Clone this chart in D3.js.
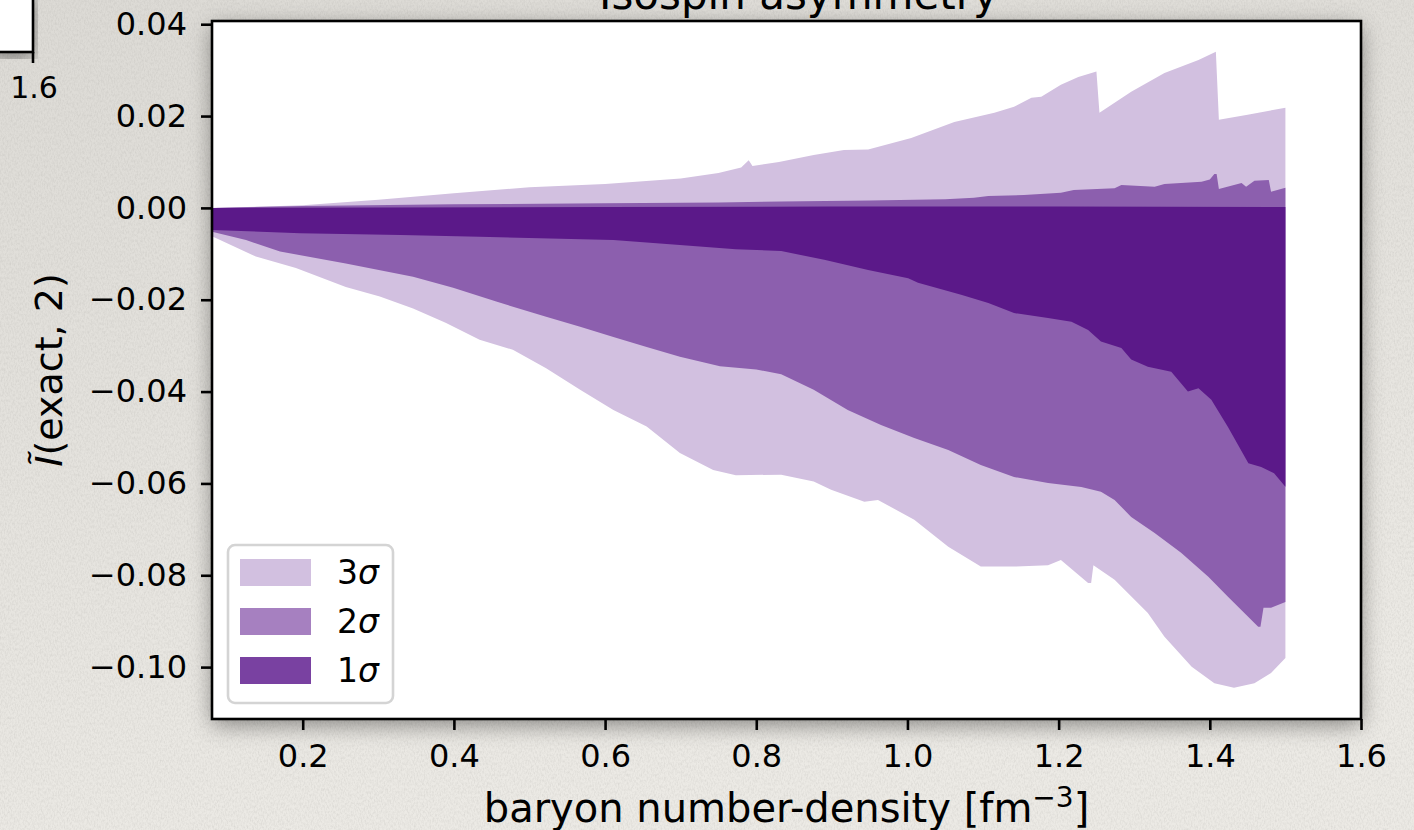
<!DOCTYPE html>
<html>
<head>
<meta charset="utf-8">
<script src="https://cdn.jsdelivr.net/npm/d3@7"></script>
<style>
  body { margin: 0; background: #e4e2dd; }
  svg { display: block; }
  text { font-family: "DejaVu Sans", sans-serif; fill: #000; }
</style>
</head>
<body>
<div id="chart"></div>
<script>

// band edges, [density, value]
var sigma3Upper = [[0.08,0.0],[0.15,0.0003],[0.2,0.0006],[0.3,0.0018],[0.4,0.0032],[0.5,0.0045],[0.6,0.0052],
  [0.7,0.0064],[0.75,0.0076],[0.78,0.0088],[0.79,0.0104],[0.795,0.0091],[0.83,0.0100],[0.876,0.0115],
  [0.916,0.0126],[0.948,0.0127],[1.005,0.0152],[1.062,0.0187],[1.115,0.0207],[1.141,0.0220],[1.164,0.0240],
  [1.177,0.0242],[1.203,0.0268],[1.226,0.0285],[1.250,0.0297],[1.254,0.0207],[1.296,0.0253],[1.340,0.0294],
  [1.385,0.0322],[1.408,0.0340],[1.412,0.0192],[1.45,0.0203],[1.50,0.0218]];
var sigma3Lower = [[0.08,-0.0062],[0.138,-0.0106],[0.191,-0.0131],[0.257,-0.0172],[0.302,-0.0193],[0.346,-0.0219],
  [0.389,-0.0250],[0.434,-0.0287],[0.478,-0.0309],[0.522,-0.0349],[0.567,-0.0396],[0.611,-0.0440],[0.655,-0.0476],
  [0.699,-0.0534],[0.743,-0.0571],[0.773,-0.0582],[0.833,-0.0581],[0.876,-0.0596],[0.899,-0.0614],[0.943,-0.0640],
  [0.961,-0.0636],[1.009,-0.0679],[1.054,-0.0738],[1.097,-0.0781],[1.141,-0.0781],[1.186,-0.0778],[1.203,-0.0767],
  [1.239,-0.0817],[1.243,-0.0817],[1.246,-0.0778],[1.274,-0.0810],[1.318,-0.0882],[1.340,-0.0934],[1.376,-0.0999],
  [1.406,-0.1035],[1.432,-0.1045],[1.459,-0.1035],[1.481,-0.1013],[1.50,-0.0980]];

var sigma2Upper = [[0.08,0.0],[0.2,0.0004],[0.4,0.0008],[0.6,0.0010],[0.75,0.0012],[0.833,0.0014],[0.95,0.0016],
  [1.05,0.0019],[1.088,0.0022],[1.107,0.0026],[1.154,0.0028],[1.203,0.0033],[1.220,0.0039],[1.274,0.0043],
  [1.283,0.0050],[1.327,0.0046],[1.340,0.0052],[1.389,0.0057],[1.400,0.0062],[1.406,0.0074],[1.409,0.0074],
  [1.412,0.0041],[1.442,0.0054],[1.448,0.0046],[1.459,0.0059],[1.478,0.0061],[1.481,0.0035],[1.50,0.0044]];
var sigma2Lower = [[0.08,-0.0052],[0.125,-0.0070],[0.170,-0.0095],[0.257,-0.0121],[0.346,-0.0150],[0.399,-0.0174],
  [0.456,-0.0204],[0.522,-0.0237],[0.567,-0.0259],[0.611,-0.0281],[0.655,-0.0303],[0.699,-0.0324],[0.752,-0.0345],
  [0.800,-0.0352],[0.833,-0.0362],[0.876,-0.0396],[0.921,-0.0440],[0.965,-0.0473],[1.009,-0.0501],[1.054,-0.0527],
  [1.097,-0.0560],[1.141,-0.0586],[1.186,-0.0599],[1.230,-0.0608],[1.256,-0.0618],[1.274,-0.0636],[1.296,-0.0673],
  [1.327,-0.0708],[1.362,-0.0751],[1.398,-0.0803],[1.424,-0.0847],[1.451,-0.0891],[1.464,-0.0912],[1.467,-0.0912],
  [1.471,-0.0871],[1.481,-0.0871],[1.50,-0.0858]];

var sigma1Upper = [[0.08,0.0],[0.3,0.0001],[0.6,0.0002],[0.9,0.0003],[1.2,0.0003],[1.5,0.0002]];
var sigma1Lower = [[0.08,-0.0048],[0.197,-0.0055],[0.33,-0.0059],[0.434,-0.0063],[0.611,-0.0070],[0.699,-0.0081],
  [0.773,-0.0090],[0.833,-0.0094],[0.890,-0.0113],[0.948,-0.0135],[1.001,-0.0153],[1.014,-0.0163],[1.071,-0.0189],
  [1.107,-0.0207],[1.141,-0.0229],[1.186,-0.0240],[1.217,-0.0248],[1.239,-0.0266],[1.256,-0.0291],[1.283,-0.0305],
  [1.296,-0.0330],[1.318,-0.0346],[1.349,-0.0357],[1.371,-0.0400],[1.385,-0.0393],[1.402,-0.0418],[1.424,-0.0477],
  [1.451,-0.0556],[1.468,-0.0564],[1.485,-0.0578],[1.50,-0.0607]];

var xTicks = [0.2, 0.4, 0.6, 0.8, 1.0, 1.2, 1.4, 1.6];
var yTicks = [-0.10, -0.08, -0.06, -0.04, -0.02, 0.00, 0.02, 0.04];
var bandLabels = ["3σ", "2σ", "1σ"];
var fillColors = ["#d2c0e0", "#8c5fae", "#5b1989"];
var legendColors = ["#d2c0e0", "#a680c0", "#7941a1"];

var svgWidth = 1414;
var svgHeight = 830;

var margin = {
  top: 21,
  right: 53,
  bottom: 111,
  left: 212
};

var width = svgWidth - margin.left - margin.right;
var height = svgHeight - margin.top - margin.bottom;

var svg = d3.select("#chart")
  .append("svg")
  .attr("width", svgWidth)
  .attr("height", svgHeight);

var defs = svg.append("defs");

var paperGrad = defs.append("linearGradient")
  .attr("id", "paperGrad")
  .attr("x1", 0).attr("y1", 0).attr("x2", 0.3).attr("y2", 1);
paperGrad.append("stop").attr("offset", "0%").attr("stop-color", "#dcdad5");
paperGrad.append("stop").attr("offset", "100%").attr("stop-color", "#eceae5");

var grain = defs.append("filter")
  .attr("id", "grain")
  .attr("x", 0).attr("y", 0).attr("width", "100%").attr("height", "100%");
grain.append("feTurbulence")
  .attr("type", "fractalNoise")
  .attr("baseFrequency", "0.7 0.35")
  .attr("numOctaves", 3)
  .attr("seed", 7);
grain.append("feColorMatrix")
  .attr("type", "matrix")
  .attr("values", "0 0 0 0 0.35  0 0 0 0 0.34  0 0 0 0 0.32  0.4 0 0 0 -0.15");

var shadow = defs.append("filter")
  .attr("id", "shadow")
  .attr("x", "-10%").attr("y", "-10%").attr("width", "120%").attr("height", "120%");
shadow.append("feDropShadow")
  .attr("dx", 0).attr("dy", 6)
  .attr("stdDeviation", 11)
  .attr("flood-color", "#000")
  .attr("flood-opacity", 0.42);

defs.append("clipPath")
  .attr("id", "plotClip")
  .append("rect")
  .attr("width", width)
  .attr("height", height);

// paper background
svg.append("rect")
  .attr("width", svgWidth)
  .attr("height", svgHeight)
  .attr("fill", "url(#paperGrad)");
svg.append("rect")
  .attr("width", svgWidth)
  .attr("height", svgHeight)
  .attr("filter", "url(#grain)");

// corner of the neighbouring panel, top left
svg.append("rect")
  .attr("x", -10).attr("y", -10)
  .attr("width", 43).attr("height", 62)
  .attr("fill", "#fff")
  .attr("stroke", "#000")
  .attr("stroke-width", 2.6)
  .attr("filter", "url(#shadow)");
svg.append("line")
  .attr("x1", 33).attr("x2", 33)
  .attr("y1", 52).attr("y2", 63)
  .attr("stroke", "#000")
  .attr("stroke-width", 2.6);
svg.append("text")
  .attr("x", 34).attr("y", 98)
  .attr("text-anchor", "middle")
  .style("font-size", "30px")
  .text("1.6");

var chartGroup = svg.append("g")
  .attr("transform", `translate(${margin.left}, ${margin.top})`);

chartGroup.append("rect")
  .attr("width", width)
  .attr("height", height)
  .attr("fill", "#fff")
  .attr("filter", "url(#shadow)");

var xLinearScale = d3.scaleLinear()
  .domain([0.08, 1.6])
  .range([0, width]);

var yLinearScale = d3.scaleLinear()
  .domain([-0.1113, 0.0407])
  .range([height, 0]);

var bandLine = d3.line()
  .x(d => xLinearScale(d[0]))
  .y(d => yLinearScale(d[1]));

function bandPath(upper, lower) {
  return bandLine(upper.concat(lower.slice().reverse())) + "Z";
}

var bands = [
  [sigma3Upper, sigma3Lower],
  [sigma2Upper, sigma2Lower],
  [sigma1Upper, sigma1Lower]
];

chartGroup.append("g")
  .attr("clip-path", "url(#plotClip)")
  .selectAll("path")
  .data(bands)
  .enter()
  .append("path")
  .attr("d", d => bandPath(d[0], d[1]))
  .attr("fill", (d, i) => fillColors[i])
  .attr("stroke", "none");

// axes
var bottomAxis = d3.axisBottom(xLinearScale)
  .tickValues(xTicks)
  .tickFormat(d3.format(".1f"))
  .tickSize(11)
  .tickPadding(14);

var leftAxis = d3.axisLeft(yLinearScale)
  .tickValues(yTicks)
  .tickFormat(d3.format(".2f"))
  .tickSize(11)
  .tickPadding(14);

var xAxis = chartGroup.append("g")
  .attr("transform", `translate(0, ${height})`)
  .call(bottomAxis);

var yAxis = chartGroup.append("g")
  .call(leftAxis);

[xAxis, yAxis].forEach(function(ax) {
  ax.select(".domain").remove();
  ax.selectAll(".tick line")
    .attr("stroke", "#000")
    .attr("stroke-width", 2.6);
  ax.selectAll(".tick text")
    .attr("fill", "#000")
    .style("font-family", "'DejaVu Sans', sans-serif")
    .style("font-size", "32px");
});

chartGroup.append("rect")
  .attr("width", width)
  .attr("height", height)
  .attr("fill", "none")
  .attr("stroke", "#000")
  .attr("stroke-width", 2.6);

// legend
var legend = chartGroup.append("g")
  .attr("transform", "translate(16, 524)");

legend.append("rect")
  .attr("width", 165)
  .attr("height", 158)
  .attr("rx", 7)
  .attr("fill", "#fff")
  .attr("fill-opacity", 0.8)
  .attr("stroke", "#d4d4d4")
  .attr("stroke-width", 2.6);

var legendRows = legend.selectAll(".row")
  .data(bandLabels)
  .enter()
  .append("g")
  .attr("class", "row")
  .attr("transform", (d, i) => `translate(12, ${14 + i * 49})`);

legendRows.append("rect")
  .attr("width", 71)
  .attr("height", 27)
  .attr("fill", (d, i) => legendColors[i]);

var legendText = legendRows.append("text")
  .attr("x", 97)
  .attr("y", 25)
  .style("font-size", "33px");
legendText.append("tspan").text(d => d.slice(0, 1));
legendText.append("tspan").style("font-style", "italic").text(d => d.slice(1));

// labels
svg.append("text")
  .attr("x", margin.left + width / 2)
  .attr("y", 822)
  .attr("text-anchor", "middle")
  .style("font-size", "40px")
  .html("baryon number-density [fm<tspan dy='-15' style='font-size:28px'>−3</tspan><tspan dy='15'>]</tspan>");

var yLabel = svg.append("text")
  .attr("transform", `translate(62, ${margin.top + height / 2}) rotate(-90)`)
  .attr("text-anchor", "middle")
  .style("font-size", "38px");
yLabel.append("tspan").style("font-style", "italic").text("I\u0303");
yLabel.append("tspan").text("(exact, 2)");

// title sits mostly above the crop, only its lower part shows
svg.append("text")
  .attr("x", margin.left + width / 2 + 12)
  .attr("y", 9)
  .attr("text-anchor", "middle")
  .style("font-size", "42px")
  .text("Isospin asymmetry");

</script>
</body>
</html>
